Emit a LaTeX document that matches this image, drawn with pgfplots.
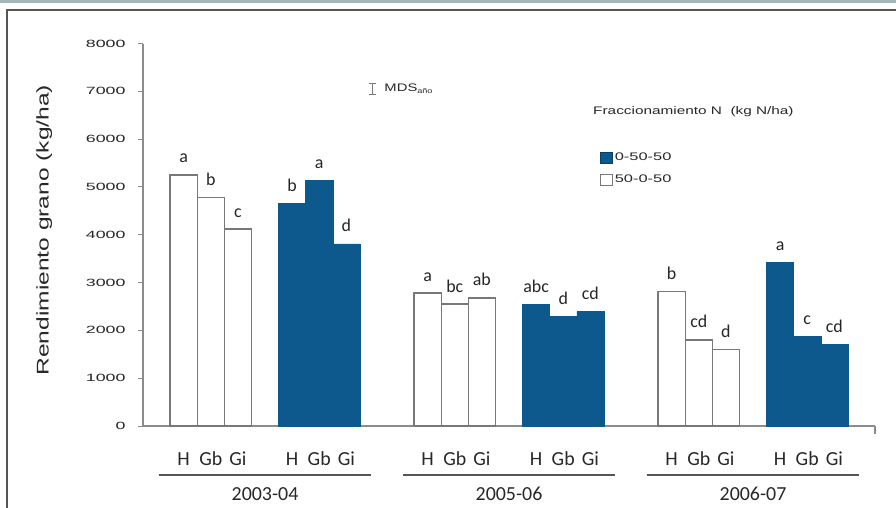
\documentclass[border=0pt]{standalone}
\usepackage{pgfplots}
\pgfplotsset{compat=1.18}
\usepackage{fontspec}
\setmainfont{Liberation Sans}
\newfontfamily\calib{Carlito}
\definecolor{barblue}{RGB}{13,89,142}
\definecolor{axisgray}{RGB}{140,140,140}
\definecolor{edgegray}{RGB}{120,120,120}
\definecolor{framegray}{RGB}{85,85,85}
\definecolor{bandgray}{RGB}{163,185,184}
\definecolor{txt}{RGB}{40,40,40}
\begin{document}
\begin{tikzpicture}[x=1bp,y=1bp]
\useasboundingbox (0,0) rectangle (896,-508);
\fill[white] (0,0) rectangle (896,-508);
\fill[bandgray] (0,0) rectangle (896,-3.5);
\draw[framegray, line width=2bp] (6.5,-520) -- (6.5,-10.5) -- (900,-10.5);
\begin{axis}[
  at={(143bp,-426bp)}, anchor=south west,
  scale only axis, width=732bp, height=382.5bp,
  xmin=-1.5, xmax=25.5, ymin=0, ymax=8000,
  axis x line*=bottom, axis y line*=left,
  axis line style={axisgray, line width=1.3bp},
  clip=false,
  ytick={0,1000,...,8000},
  tick align=outside,
  major tick length=5bp,
  y tick style={axisgray, line width=1bp},
  yticklabel={\scalebox{1.7}[1]{\pgfmathprintnumber[assume math mode=true,1000 sep={}]{\tick}}},
  yticklabel style={font=\fontsize{10.5}{10.5}\selectfont, text=txt, xshift=-9bp},
  xtick={0,1,2,4,5,6,9,10,11,13,14,15,18,19,20,22,23,24},
  xticklabels={H,Gb,Gi,H,Gb,Gi,H,Gb,Gi,H,Gb,Gi,H,Gb,Gi,H,Gb,Gi},
  x tick style={draw=none},
  xticklabel style={font=\calib\fontsize{20}{20}\selectfont, text=txt, anchor=base, yshift=-34.5bp},
  every axis y label/.style={at={(axis description cs:-0.135,0.512)}, rotate=90, anchor=center, font=\fontsize{17}{17}\selectfont, text=txt},
  ylabel={\scalebox{1.45}[1]{Rendimiento grano (kg/ha)}},
  legend style={at={(axis description cs:0.62,0.725)}, anchor=north west, draw=none, fill=none,
    font=\fontsize{11}{11}\selectfont, text=txt, row sep=9bp},
  legend cell align=left,
  legend image code/.code={\draw[#1] (0bp,-5.5bp) rectangle (12bp,5.5bp);},
  barlbl/.style={nodes near coords, point meta=explicit symbolic,
    every node near coord/.append style={font=\calib\fontsize{18}{18}\selectfont, text=black!85, anchor=base, yshift=12bp}},
]
% white bars: 50-0-50
\addplot[ybar, bar width=1, bar shift=0pt, fill=white, draw=edgegray, line width=1.3bp, forget plot, barlbl]
 coordinates {(0,5250) [a] (1,4780) [b] (2,4120) [c]
              (9,2780) [a] (10,2550) [bc] (11,2680) [ab]
              (18,2810) [b] (19,1800) [cd] (20,1600) [d]};
% blue bars: 0-50-50
\addplot[ybar, bar width=1, bar shift=0pt, fill=barblue, draw=barblue, line width=0.5bp, forget plot, barlbl]
 coordinates {(4,4660) [b] (5,5130) [a] (6,3810) [d]
              (13,2550) [abc] (14,2300) [d] (15,2390) [cd]
              (22,3430) [a] (23,1870) [c] (24,1715) [cd]};
% MDS (least significant difference) bar
\addplot[edgegray, line width=1.2bp, mark=-, mark size=3.6bp, mark options={solid, line width=1.2bp}, forget plot]
 coordinates {(6.96,6935) (6.96,7165)};
\node[anchor=west, inner sep=0pt, font=\fontsize{11}{11}\selectfont, text=txt] at (axis cs:7.4,7050)
  {\scalebox{1.35}[1]{MDS}\raisebox{-2.5bp}{\fontsize{7}{7}\selectfont\scalebox{1.3}[1]{año}}};
% legend
\addlegendimage{fill=barblue, draw=barblue!70!black, line width=0.6bp}
\addlegendentry{\scalebox{1.5}[1]{0-50-50}}
\addlegendimage{fill=white, draw=edgegray, line width=0.8bp}
\addlegendentry{\scalebox{1.5}[1]{50-0-50}}
\node[anchor=west, inner sep=0pt, font=\fontsize{11}{11}\selectfont, text=txt] at (axis description cs:0.6148,0.821)
  {\scalebox{1.4}[1]{Fraccionamiento N\ \ (kg N/ha)}};
% right-end tick
\draw[axisgray, line width=1.3bp] (axis cs:25.5,0) -- ([yshift=-8bp]axis cs:25.5,0);
% year groups
\draw[framegray, line width=2bp] ([yshift=-49bp]axis cs:-0.9,0) -- ([yshift=-49bp]axis cs:6.9,0);
\draw[framegray, line width=2bp] ([yshift=-49bp]axis cs:8.1,0) -- ([yshift=-49bp]axis cs:15.9,0);
\draw[framegray, line width=2bp] ([yshift=-49bp]axis cs:17.1,0) -- ([yshift=-49bp]axis cs:24.9,0);
\node[font=\calib\fontsize{20}{20}\selectfont, text=txt, anchor=base] at ([yshift=-74bp]axis cs:3,0) {2003-04};
\node[font=\calib\fontsize{20}{20}\selectfont, text=txt, anchor=base] at ([yshift=-74bp]axis cs:12,0) {2005-06};
\node[font=\calib\fontsize{20}{20}\selectfont, text=txt, anchor=base] at ([yshift=-74bp]axis cs:21,0) {2006-07};
\end{axis}
\end{tikzpicture}
\end{document}
